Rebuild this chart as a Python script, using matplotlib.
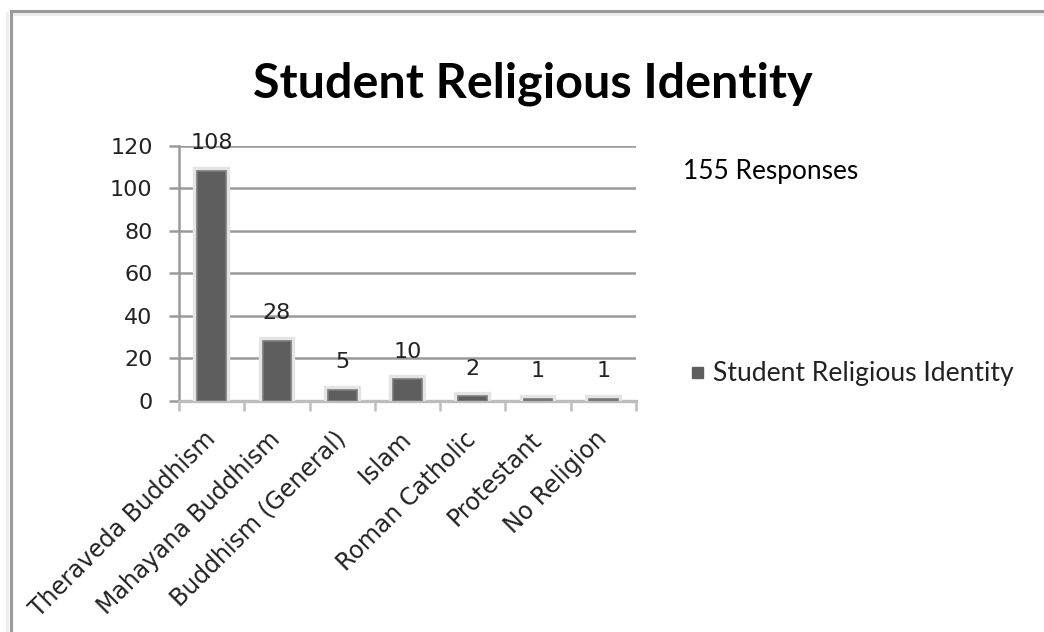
import matplotlib
matplotlib.use("Agg")
import matplotlib.pyplot as plt
import matplotlib.patheffects as pe
from matplotlib.lines import Line2D
import numpy as np

categories = ["Theraveda Buddhism", "Mahayana Buddhism", "Buddhism (General)",
              "Islam", "Roman Catholic", "Protestant", "No Religion"]
counts = [108, 28, 5, 10, 2, 1, 1]
series_name = "Student Religious Identity"
chart_title = "Student Religious Identity"
note_text = "155 Responses"
y_ticks = [0, 20, 40, 60, 80, 100, 120]

W, H = 1044, 632
fig = plt.figure(figsize=(W / 100, H / 100), dpi=100)
fig.patch.set_facecolor("white")

# plot area in pixel terms
ax_left, ax_right, ax_top, ax_bottom = 179, 636, 145.7, 400.7
ax = fig.add_axes([ax_left / W, 1 - ax_bottom / H,
                   (ax_right - ax_left) / W, (ax_bottom - ax_top) / H])
ax.set_xlim(-0.5, len(categories) - 0.5)
ax.set_ylim(0, 120)

grid_col = "#9a9a9a"
ax.set_yticks(y_ticks)
ax.set_yticklabels([str(v) for v in y_ticks])
ax.yaxis.grid(True, color=grid_col, linewidth=1.8, zorder=0)
ax.set_axisbelow(True)
ax.tick_params(axis="y", length=7, width=1.8, color=grid_col, pad=12,
               labelsize=16, labelcolor="#222222")

x = np.arange(len(categories))
ax.set_xticks(x)
ax.set_xticklabels(categories, rotation=45, ha="right", va="center",
                   rotation_mode="anchor", fontsize=17, color="#222222")
ax.tick_params(axis="x", which="major", length=0, pad=25)
ax.set_xticks(np.arange(-0.5, len(categories)), minor=True)
ax.tick_params(axis="x", which="minor", length=7, width=1.8, color="#bdbdbd")

for s in ["top", "right"]:
    ax.spines[s].set_visible(False)
ax.spines["left"].set_color(grid_col)
ax.spines["left"].set_linewidth(1.8)
ax.spines["bottom"].set_color("#bdbdbd")
ax.spines["bottom"].set_linewidth(2.4)

bars = ax.bar(x, counts, width=0.44, color="#5e5e5e", edgecolor="#7c7c7c",
              linewidth=1.2, zorder=3, label=series_name)
for b in bars:
    b.set_path_effects([pe.Stroke(linewidth=6, foreground="#e4e4e4"), pe.Normal()])

for xi, v in zip(x, counts):
    ax.annotate(str(v), (xi, v), xytext=(0, 20), textcoords="offset points",
                ha="center", va="center", fontsize=16, color="#222222", zorder=5)

txt_font = ["Lato", "DejaVu Sans"]
title = fig.text(532.5 / W, 1 - 84 / H, chart_title, ha="center", va="center",
                 fontsize=30, fontweight="bold", family=txt_font, color="black")
note = fig.text(683 / W, 1 - 172 / H, note_text, ha="left", va="center",
                fontsize=14, family=txt_font, color="black")
leg_txt = fig.text(713 / W, 1 - 374 / H, series_name, ha="left", va="center",
                   fontsize=14, family=txt_font, color="#222222")
fig.patches.append(plt.Rectangle((692 / W, 1 - 378 / H), 11 / W, 11 / H,
                                 transform=fig.transFigure, color="#5e5e5e"))


def fit_width(t, target_px):
    fig.canvas.draw()
    r = fig.canvas.get_renderer()
    w = t.get_window_extent(r).width
    t.set_fontsize(t.get_fontsize() * target_px / w)


fit_width(title, 559)
fit_width(note, 175)
fit_width(leg_txt, 300)

# outer chart frame (top and left edges)
for xs, ys, c, lw in [
    ([10.5 / W, 1], [1 - 10.5 / H, 1 - 10.5 / H], "#9a9a9a", 2.2),
    ([10.5 / W, 10.5 / W], [1 - 10.5 / H, 0], "#9a9a9a", 2.2),
    ([13.5 / W, 1], [1 - 13.5 / H, 1 - 13.5 / H], "#ebebeb", 2.0),
    ([7 / W, 7 / W], [1 - 13 / H, 0], "#ededed", 2.0),
]:
    fig.add_artist(Line2D(xs, ys, transform=fig.transFigure, color=c, linewidth=lw))

fig.savefig("out.png", dpi=100)
